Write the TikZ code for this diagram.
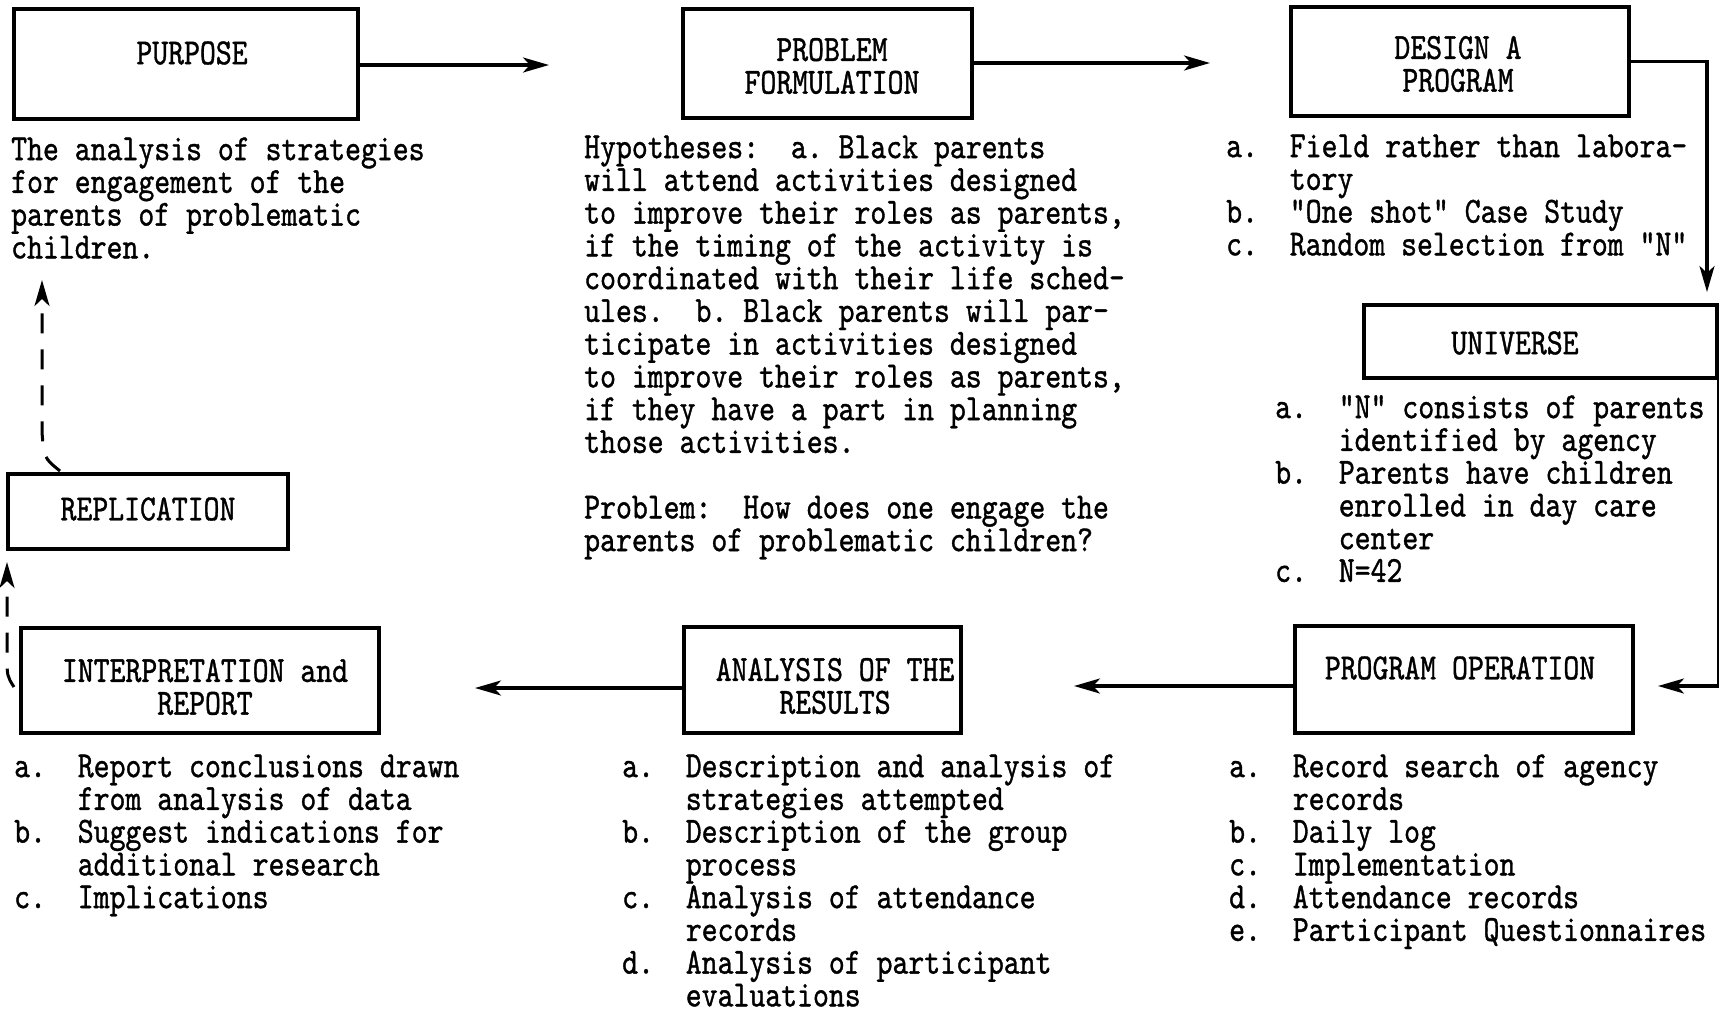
\documentclass[tikz,border=0pt]{standalone}
\usepackage{fontspec}
\newfontfamily\tw{lmmono10-regular.otf}[FakeStretch=0.823,FakeBold=1]
\usetikzlibrary{arrows.meta}
\begin{document}
\begin{tikzpicture}[x=1pt,y=-1pt,
  every node/.style={font=\tw\fontsize{36.8}{32.75}\selectfont\frenchspacing},
  box/.style={draw, line width=3.2pt, inner sep=0pt},
  lbl/.style={align=center, inner sep=0pt},
  txt/.style={align=left, inner sep=0pt, anchor=north west},
  conn/.style={line width=3.2pt, -{Stealth[length=26pt,width=15pt,inset=7pt]}},
  dconn/.style={line width=3pt, dash pattern=on 20pt off 16pt, -{Stealth[length=26pt,width=15pt,inset=7pt]}},
]
\useasboundingbox (0,0) rectangle (1719,1010);

% boxes
\node[box, minimum width=344pt, minimum height=110pt] (purpose) at (186,64) {};
\node[box, minimum width=289pt, minimum height=109pt] (problem) at (827.5,63.5) {};
\node[box, minimum width=338pt, minimum height=109pt] (design) at (1460,61.5) {};
\node[box, minimum width=353pt, minimum height=73pt] (universe) at (1540.5,341.5) {};
\node[box, minimum width=280pt, minimum height=75pt] (rep) at (148,511.5) {};
\node[box, minimum width=358pt, minimum height=105pt] (interp) at (200,680.5) {};
\node[box, minimum width=277pt, minimum height=106pt] (analysis) at (822.5,680) {};
\node[box, minimum width=338pt, minimum height=107pt] (progop) at (1464,679.5) {};

% box labels
\node[lbl] (purposeL) at (192,53) {PURPOSE};
\node[lbl] (problemL) at (832,66) {PROBLEM\\FORMULATION};
\node[lbl] (designL) at (1458,64) {DESIGN A\\PROGRAM};
\node[lbl] (universeL) at (1515,343) {UNIVERSE};
\node[lbl] (repL) at (148,509) {REPLICATION};
\node[lbl] (interpL) at (205,687) {INTERPRETATION and\\REPORT};
\node[lbl] (analysisL) at (835,686) {ANALYSIS OF THE\\RESULTS};
\node[lbl] (progopL) at (1460,668) {PROGRAM OPERATION};

% texts
\node[txt] (purposeT) at (11,137) {\strut The analysis of strategies\\
for engagement of the\\
parents of problematic\\
children.};
\node[txt] (problemT) at (584,135) {\strut Hypotheses:~~a. Black parents\\
will attend activities designed\\
to improve their roles as parents,\\
if the timing of the activity is\\
coordinated with their life sched-\\
ules.~~b. Black parents will par-\\
ticipate in activities designed\\
to improve their roles as parents,\\
if they have a part in planning\\
those activities.\\
\\
Problem:~~How does one engage the\\
parents of problematic children?};
\node[txt] (designT) at (1226,134) {\strut a.~~Field rather than labora-\\
~~~~tory\\
b.~~"One shot" Case Study\\
c.~~Random selection from "N"};
\node[txt] (universeT) at (1275,395) {\strut a.~~"N" consists of parents\\
~~~~identified by agency\\
b.~~Parents have children\\
~~~~enrolled in day care\\
~~~~center\\
c.~~N=42};
\node[txt] (interpT) at (14,754) {\strut a.~~Report conclusions drawn\\
~~~~from analysis of data\\
b.~~Suggest indications for\\
~~~~additional research\\
c.~~Implications};
\node[txt] (analysisT) at (622,754) {\strut a.~~Description and analysis of\\
~~~~strategies attempted\\
b.~~Description of the group\\
~~~~process\\
c.~~Analysis of attendance\\
~~~~records\\
d.~~Analysis of participant\\
~~~~evaluations};
\node[txt] (progopT) at (1229,754) {\strut a.~~Record search of agency\\
~~~~records\\
b.~~Daily log\\
c.~~Implementation\\
d.~~Attendance records\\
e.~~Participant Questionnaires};

% connector ends
\coordinate (a1) at (549,65);
\coordinate (a2) at (1210,63);
\coordinate (a3) at (1707,292);
\coordinate (a4) at (1658,686);
\coordinate (a5) at (1074,686);
\coordinate (a6) at (475,688);
\coordinate (d1) at (14,687);
\coordinate (d2) at (7,562);
\coordinate (r1) at (60,471);
\coordinate (r2) at (42,280);

% connectors
\draw[conn] (purpose.east |- a1) -- (a1);
\draw[conn] (problem.east |- a2) -- (a2);
\draw[conn] (design.east) -| (a3);
\draw[conn] (universe.south east) |- (a4);
\draw[conn] (a5 -| progop.west) -- (a5);
\draw[conn] (a6 -| analysis.west) -- (a6);
\draw[dconn] (d1) .. controls (7,676) .. (7,655) -- (d2);
\draw[dconn] (r1) .. controls (44,458) .. (42,432) -- (r2);
\end{tikzpicture}
\end{document}
